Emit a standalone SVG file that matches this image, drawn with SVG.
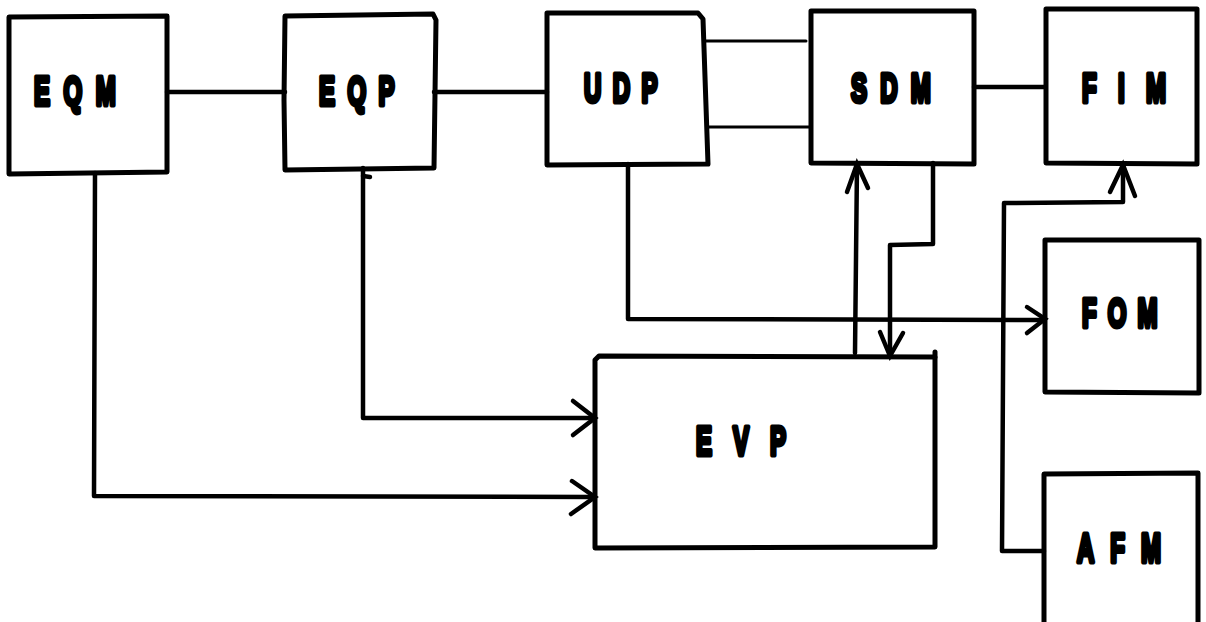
<svg xmlns="http://www.w3.org/2000/svg" width="1206" height="622" viewBox="0 0 1206 622">
<style>
.box{fill:none;stroke:#000;stroke-width:5;stroke-linejoin:round;stroke-linecap:round}
.wire{fill:none;stroke:#000;stroke-width:4.5;stroke-linejoin:round;stroke-linecap:round}
.thin{fill:none;stroke:#000;stroke-width:3;stroke-linecap:round}
.head{fill:none;stroke:#000;stroke-width:4.5;stroke-linejoin:miter;stroke-linecap:round}
.lbl{font-family:"Liberation Sans",Arial,sans-serif;font-weight:bold;font-size:40px;fill:#000;stroke:#000;stroke-width:5;stroke-linejoin:round}
</style>
<rect width="1206" height="622" fill="#fff"/>
<g id="connectors">
<path class="wire" d="M167,92 L285,92"/>
<path class="wire" d="M434,92 L547,92"/>
<path class="thin" d="M704,41 L806,41"/>
<path class="thin" d="M708,127 L810,127"/>
<path class="wire" d="M974,87 L1045,87"/>
<path class="wire" d="M95,173 L94,496 L594,497"/>
<path class="head" d="M572,481 L595,497 L571,514"/>
<path class="wire" d="M363,168 L363,418 L594,418"/>
<path class="wire" d="M363,176 L370,177"/>
<path class="head" d="M573,401 L595,418 L573,435"/>
<path class="wire" d="M628,164 L628,319 L1044,320"/>
<path class="head" d="M1027,307 L1045,319 L1027,333"/>
<path class="wire" d="M855,353 L857,164"/>
<path class="head" d="M847,192 L857,164 L868,188"/>
<path class="wire" d="M933,163 L933,244 L890,245 L890,355"/>
<path class="head" d="M880,332 L890,356 L903,333"/>
<path class="wire" d="M1044,551 L1002,551 L1004,203 L1123,202 L1123,165"/>
<path class="head" d="M1110,192 L1123,165 L1135,196"/>
</g>
<g id="EQM">
<path class="box" d="M9,17 L167,16 L167,172 L9,174 Z"/>
<text class="lbl" transform="translate(34,105) scale(0.6,1)" letter-spacing="22.5">EQM</text>
</g>
<g id="EQP">
<path class="box" d="M285,16 L433,14 L436,20 L434,168 L285,170 L284,100 Z"/>
<text class="lbl" transform="translate(319,105) scale(0.6,1)" letter-spacing="20.7">EQP</text>
</g>
<g id="UDP">
<path class="box" d="M547,13 L698,13 L703,19 L708,164 L547,165 Z"/>
<text class="lbl" transform="translate(584,102) scale(0.6,1)" letter-spacing="19">UDP</text>
</g>
<g id="SDM">
<path class="box" d="M811,11 L974,11 L974,164 L811,163 Z"/>
<text class="lbl" transform="translate(851,102) scale(0.6,1)" letter-spacing="22">SDM</text>
</g>
<g id="FIM">
<path class="box" d="M1046,9 L1197,9 L1197,164 L1046,163 Z"/>
<text class="lbl" transform="translate(1082,102) scale(0.6,1)" letter-spacing="35.5">FIM</text>
</g>
<g id="FOM">
<path class="box" d="M1045,240 L1199,240 L1199,393 L1045,392 Z"/>
<text class="lbl" transform="translate(1082,327) scale(0.6,1)" letter-spacing="18.5">FOM</text>
</g>
<g id="EVP">
<path class="box" d="M595,360 L599,356 L935,357 L935,547 L595,548 Z"/>
<path class="box" d="M935,357 L935,352"/>
<text class="lbl" transform="translate(696,455) scale(0.6,1)" letter-spacing="35">EVP</text>
</g>
<g id="AFM">
<path class="box" d="M1044,626 L1044,474 L1198,473 L1198,626"/>
<text class="lbl" transform="translate(1077,562) scale(0.6,1)" letter-spacing="26.7">AFM</text>
</g>
</svg>
